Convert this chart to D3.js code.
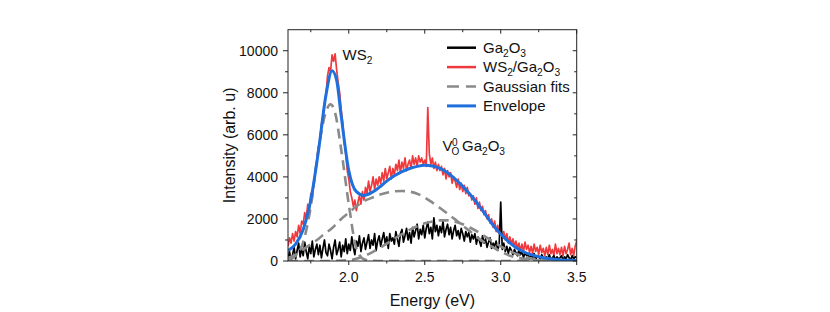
<!DOCTYPE html>
<html>
<head>
<meta charset="utf-8">
<script src="https://cdn.jsdelivr.net/npm/d3@7"></script>
<style>
  body { margin: 0; background: #fff; }
  svg { font-family: Arial, "Liberation Sans", Helvetica, sans-serif; }
</style>
</head>
<body>
<svg id="chart" width="830" height="312"></svg>
<script>
// Raw spectra sampled every 0.01 eV from 1.60 to 3.50 eV
var rawStart = 1.6, rawStep = 0.01;

var ga2o3 = [
  150, 450, 0, 300, 650, 100, 500, 850, 200, 600,
  250, 900, 450, 100, 700, 350, 950, 200, 550, 800,
  300, 750, 150, 600, 1000, 400, 250, 800, 500, 100,
  650, 1000, 300, 550, 900, 200, 750, 450, 1050, 350,
  800, 500, 1150, 650, 300, 950, 700, 1200, 450, 850,
  1100, 550, 900, 1250, 600, 1000, 750, 1300, 500, 950,
  1200, 700, 1050, 1350, 800, 1150, 600, 1300, 950, 1100,
  800, 1400, 1050, 700, 1300, 1500, 900, 1200, 1550, 1000,
  1350, 850, 1600, 1150, 1450, 1750, 1050, 1500, 1250, 1700,
  1100, 1550, 1850, 1300, 1600, 1050, 2050, 1400, 1700, 1200,
  1650, 1350, 1900, 1150, 1500, 1750, 1250, 1600, 1050, 1450,
  1700, 1200, 1450, 1050, 1550, 1300, 950, 1400, 1150, 1350,
  900, 1250, 1050, 1300, 800, 1150, 950, 700, 1200, 850,
  1050, 650, 900, 1100, 600, 850, 700, 950, 500, 800,
  2800, 550, 850, 450, 700, 350, 650, 500, 300, 550,
  400, 250, 550, 300, 450, 150, 400, 250, 350, 100,
  300, 150, 350, 50, 250, 200, 100, 300, 150, 50,
  200, 100, 300, 50, 150, 250, 50, 200, 100, 150,
  250, 50, 200, 100, 300, 150, 50, 250, 100, 200, 150
];

var ws2Ga2o3 = [
  700, 1100, 850, 1300, 950, 1400, 1150, 1700, 1300, 1900,
  1750, 2300, 2050, 2700, 2400, 3200, 3000, 3700, 4200, 4800,
  5400, 5800, 6500, 6900, 7500, 7900, 8800, 9200, 9000, 9800,
  9500, 9850, 9100, 8500, 8000, 7200, 6600, 5700, 5100, 4300,
  3900, 3300, 3000, 2600, 2900, 2400, 2800, 3100, 2700, 3300,
  2900, 3500, 3200, 3800, 3300, 3600, 4000, 3400, 3900, 3600,
  4000, 3700, 4200, 3800, 4400, 3900, 4200, 4500, 3900, 4400,
  4100, 4600, 4300, 4800, 4200, 4700, 4400, 4900, 4300, 4600,
  4800, 4400, 5000, 4600, 4900, 4500, 5000, 4700, 4900, 4600,
  4800, 4500, 7300, 5100, 4600, 4900, 4400, 4700, 4300, 4600,
  4300, 4500, 4100, 4400, 3900, 4300, 4000, 4200, 3700, 4000,
  3800, 3500, 3900, 3400, 3700, 3300, 3600, 3200, 3500, 3100,
  3200, 2900, 3100, 2700, 3000, 2500, 2800, 2400, 2600, 2200,
  2400, 2000, 2200, 1800, 2000, 1600, 1900, 1400, 1700, 1300,
  1500, 1100, 1400, 1000, 1300, 850, 1150, 800, 1050, 700,
  950, 600, 850, 500, 800, 450, 900, 550, 750, 400,
  700, 350, 800, 450, 650, 300, 750, 400, 600, 250,
  650, 300, 750, 350, 550, 250, 800, 350, 600, 300,
  650, 250, 700, 350, 550, 850, 300, 600, 250, 700, 950
];

// Fit curves
var fitEnergy = [1.60, 1.65, 1.70, 1.75, 1.80, 1.85, 1.88, 1.91, 1.95, 2.00,
                 2.05, 2.10, 2.15, 2.20, 2.25, 2.30, 2.35, 2.40, 2.45, 2.50,
                 2.55, 2.60, 2.65, 2.70, 2.75, 2.80, 2.85, 2.90, 2.95, 3.00,
                 3.05, 3.10, 3.15, 3.20, 3.25, 3.30, 3.35, 3.40, 3.45, 3.50];

var gaussWS2 = [60, 250, 900, 2600, 5300, 7100, 7450, 7050, 5300, 2700,
                600, 80, 10, 0, 0, 0, 0, 0, 0, 0,
                0, 0, 0, 0, 0, 0, 0, 0, 0, 0,
                0, 0, 0, 0, 0, 0, 0, 0, 0, 0];

var gaussBroad = [150, 300, 550, 800, 1050, 1350, 1500, 1700, 2000, 2300,
                  2600, 2850, 3000, 3150, 3250, 3310, 3330, 3300, 3200, 3020,
                  2780, 2520, 2250, 1980, 1680, 1400, 1100, 850, 650, 450,
                  280, 170, 100, 50, 25, 10, 0, 0, 0, 0];

var gaussGa2o3 = [0, 0, 0, 0, 0, 0, 0, 10, 20, 40,
                  110, 230, 400, 600, 830, 1060, 1280, 1480, 1650, 1790,
                  1880, 1930, 1930, 1870, 1750, 1580, 1380, 1150, 920, 700,
                  500, 340, 210, 120, 60, 30, 10, 0, 0, 0];

var envEnergy = [1.60, 1.65, 1.70, 1.75, 1.80, 1.85, 1.89, 1.92, 1.95, 2.00,
                 2.05, 2.10, 2.15, 2.20, 2.25, 2.30, 2.35, 2.40, 2.45, 2.50,
                 2.55, 2.60, 2.65, 2.70, 2.75, 2.80, 2.85, 2.90, 2.95, 3.00,
                 3.05, 3.10, 3.15, 3.20, 3.25, 3.30, 3.35, 3.40, 3.45, 3.50];

var envelope = [500, 800, 1500, 2900, 5200, 7900, 9050, 8600, 6900, 4300,
                3300, 3120, 3250, 3500, 3800, 4050, 4250, 4400, 4500, 4550,
                4520, 4400, 4200, 3900, 3550, 3150, 2700, 2200, 1700, 1280,
                920, 640, 440, 300, 200, 130, 80, 50, 30, 20];

var xTicks = [2.0, 2.5, 3.0, 3.5];
var yTicks = [0, 2000, 4000, 6000, 8000, 10000];

var legendItems = [
  {label: ["Ga", "2", "O", "3"], color: "#000", dash: null, width: 2.5},
  {label: ["WS", "2", "/Ga", "2", "O", "3"], color: "#f0393c", dash: null, width: 2.5},
  {label: ["Gaussian fits"], color: "#8a8a8a", dash: "12,7", width: 2.5},
  {label: ["Envelope"], color: "#1f6fdc", dash: null, width: 3}
];

var svg = d3.select("#chart");
var mLeft = 288, mRight = 576.7, mTop = 29.7, mBottom = 261;

var x = d3.scaleLinear().domain([1.6, 3.5]).range([mLeft, mRight]);
var y = d3.scaleLinear().domain([0, 11000]).range([mBottom, mTop]);

svg.append("defs").append("clipPath").attr("id", "plot")
  .append("rect")
  .attr("x", mLeft).attr("y", mTop - 1)
  .attr("width", mRight - mLeft).attr("height", mBottom - mTop + 1);

var plot = svg.append("g").attr("clip-path", "url(#plot)");

var rawLine = d3.line()
  .x((d, i) => x(rawStart + i * rawStep))
  .y(d => y(d));

var smooth = function(energies) {
  return d3.line()
    .x((d, i) => x(energies[i]))
    .y(d => y(d))
    .curve(d3.curveMonotoneX);
};

plot.append("path")
  .attr("d", rawLine(ws2Ga2o3))
  .attr("fill", "none")
  .attr("stroke", "#f0393c")
  .attr("stroke-width", 1.7)
  .attr("stroke-linejoin", "round");

plot.append("path")
  .attr("d", rawLine(ga2o3))
  .attr("fill", "none")
  .attr("stroke", "#000")
  .attr("stroke-width", 1.7)
  .attr("stroke-linejoin", "round");

[gaussWS2, gaussBroad, gaussGa2o3].forEach(g => {
  plot.append("path")
    .attr("d", smooth(fitEnergy)(g))
    .attr("fill", "none")
    .attr("stroke", "#8a8a8a")
    .attr("stroke-width", 2.6)
    .attr("stroke-dasharray", "10,6");
});

plot.append("path")
  .attr("d", smooth(envEnergy)(envelope))
  .attr("fill", "none")
  .attr("stroke", "#1f6fdc")
  .attr("stroke-width", 3);

// Axes: left/bottom ticks out, top/right ticks in
var axisColor = "#222";
var gAxes = svg.append("g");

gAxes.append("rect")
  .attr("x", mLeft).attr("y", mTop)
  .attr("width", mRight - mLeft).attr("height", mBottom - mTop)
  .attr("fill", "none").attr("stroke", axisColor).attr("stroke-width", 1);

var xMinor = [1.75, 2.25, 2.75, 3.25];
var yMinor = [1000, 3000, 5000, 7000, 9000];

xTicks.forEach(t => {
  gAxes.append("line").attr("x1", x(t)).attr("x2", x(t))
    .attr("y1", mBottom).attr("y2", mBottom + 4).attr("stroke", axisColor);
  gAxes.append("line").attr("x1", x(t)).attr("x2", x(t))
    .attr("y1", mTop).attr("y2", mTop + 4).attr("stroke", axisColor);
  gAxes.append("text").attr("x", x(t)).attr("y", 281.5)
    .attr("text-anchor", "middle").attr("font-size", 14).attr("fill", "#111")
    .text(d3.format(".1f")(t));
});
xMinor.forEach(t => {
  gAxes.append("line").attr("x1", x(t)).attr("x2", x(t))
    .attr("y1", mBottom).attr("y2", mBottom + 2.5).attr("stroke", axisColor);
  gAxes.append("line").attr("x1", x(t)).attr("x2", x(t))
    .attr("y1", mTop).attr("y2", mTop + 2.5).attr("stroke", axisColor);
});

yTicks.forEach(t => {
  gAxes.append("line").attr("x1", mLeft - 5).attr("x2", mLeft)
    .attr("y1", y(t)).attr("y2", y(t)).attr("stroke", axisColor);
  gAxes.append("line").attr("x1", mRight - 4).attr("x2", mRight)
    .attr("y1", y(t)).attr("y2", y(t)).attr("stroke", axisColor);
  gAxes.append("text").attr("x", 278).attr("y", y(t) + 5)
    .attr("text-anchor", "end").attr("font-size", 14).attr("fill", "#111")
    .text(t);
});
yMinor.forEach(t => {
  gAxes.append("line").attr("x1", mLeft - 3).attr("x2", mLeft)
    .attr("y1", y(t)).attr("y2", y(t)).attr("stroke", axisColor);
  gAxes.append("line").attr("x1", mRight - 2.5).attr("x2", mRight)
    .attr("y1", y(t)).attr("y2", y(t)).attr("stroke", axisColor);
});

svg.append("text")
  .attr("x", x(2.55)).attr("y", 306)
  .attr("text-anchor", "middle").attr("font-size", 16).attr("fill", "#111")
  .text("Energy (eV)");

svg.append("text")
  .attr("transform", "translate(235," + ((mTop + mBottom) / 2) + ") rotate(-90)")
  .attr("text-anchor", "middle").attr("font-size", 16).attr("fill", "#111")
  .text("Intensity (arb. u)");

// Peak annotations
function subText(sel, parts, size) {
  parts.forEach((p, i) => {
    var isSub = /^[0-9]$/.test(p);
    sel.append("tspan")
      .attr("font-size", isSub ? size * 0.68 : size)
      .attr("dy", isSub ? 4 : (i > 0 ? -4 : 0))
      .text(p);
  });
}

var ws2Label = svg.append("text").attr("x", 342.5).attr("y", 60).attr("fill", "#111");
subText(ws2Label, ["WS", "2"], 15);

var vLabel = svg.append("g").attr("fill", "#111");
vLabel.append("text").attr("x", 442.5).attr("y", 151).attr("font-size", 15).text("V");
vLabel.append("text").attr("x", 452).attr("y", 145.5).attr("font-size", 10).text("0");
vLabel.append("text").attr("x", 451.5).attr("y", 154.5).attr("font-size", 10).text("O");
var gaLabel = vLabel.append("text").attr("x", 462).attr("y", 151);
subText(gaLabel, ["Ga", "2", "O", "3"], 15);

// Legend
var legend = svg.append("g");
legendItems.forEach((d, i) => {
  var ly = 47.7 + i * 19.4;
  legend.append("line")
    .attr("x1", 447).attr("x2", 476)
    .attr("y1", ly).attr("y2", ly)
    .attr("stroke", d.color).attr("stroke-width", d.width)
    .attr("stroke-dasharray", d.dash);
  var t = legend.append("text").attr("x", 483).attr("y", ly + 5).attr("fill", "#111");
  subText(t, d.label, 15);
});
</script>
</body>
</html>
